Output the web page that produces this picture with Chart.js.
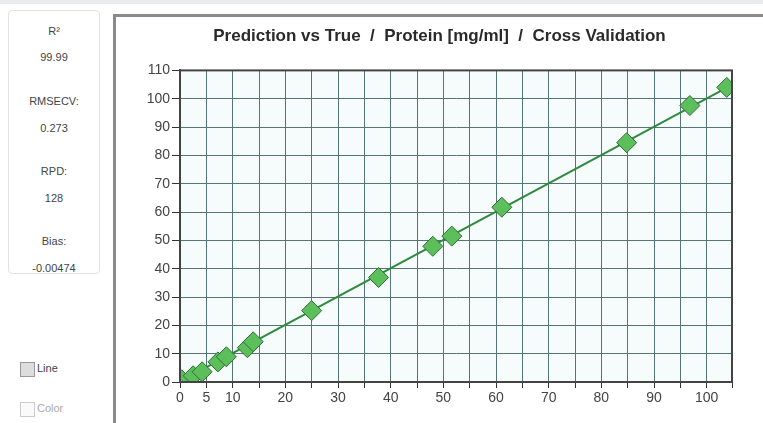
<!DOCTYPE html>
<html>
<head>
<meta charset="utf-8">
<script src="https://cdn.jsdelivr.net/npm/chart.js@4/dist/chart.umd.min.js"></script>
<style>
  body { margin: 0; width: 763px; height: 423px; background: #fff; font-family: "Liberation Sans", Arial, sans-serif; overflow: hidden; position: relative; }
  #topbar { position: absolute; left: 0; top: 0; width: 763px; height: 4px; background: #e9ecef; }
  #stats { position: absolute; left: 8px; top: 10px; width: 90px; height: 262px; border: 1px solid #e2e2e2; border-radius: 4px; color: #444; font-size: 11px; text-align: center; }
  #stats div { position: absolute; left: 0; width: 90px; }
  .chk { position: absolute; left: 20px; font-size: 11px; color: #444; }
  .chk span { display: inline-block; width: 13px; height: 13px; border: 1px solid #999; vertical-align: middle; margin-right: 2px; background: #f4f4f4; }
  #frame { position: absolute; left: 113px; top: 14px; width: 660px; height: 420px; border: 3px solid #8a8a8a; box-sizing: border-box; }
  #wrap { position: absolute; left: 116px; top: 17px; width: 647px; height: 406px; }
</style>
</head>
<body>
<div id="topbar"></div>
<div id="stats"></div>
<div class="chk" style="top:362px"><span style="background:#ddd"></span>Line</div>
<div class="chk" style="top:402px;color:#aaa"><span style="border-color:#ccc;background:#fafafa"></span>Color</div>
<div id="frame"></div>
<div id="wrap"><canvas id="c"></canvas></div>
<script>
// statistics panel
var statLabels = ["R\u00b2", "RMSECV:", "RPD:", "Bias:"];
var statValues = ["99.99", "0.273", "128", "-0.00474"];

// measured samples: true vs predicted protein [mg/ml]
var trueValues = [0.3, 2.5, 4.2, 7.2, 8.8, 12.8, 13.9, 25.0, 37.7, 48.0, 51.6, 61.1, 84.8, 96.8, 103.8];
var predValues = [0.8, 2.2, 3.6, 7.1, 8.9, 12.1, 14.2, 25.2, 36.9, 47.9, 51.5, 61.7, 84.5, 97.6, 104.0];

// regression line
var fitX = [0, 104.8];
var fitY = [0.2, 104.9];

// axis ticks
var xTicks = [0, 5, 10, 15, 20, 25, 30, 35, 40, 45, 50, 55, 60, 65, 70, 75, 80, 85, 90, 95, 100, 104.8];
var xLabels = [0, 5, 10, 20, 30, 40, 50, 60, 70, 80, 90, 100];

var stats = document.getElementById("stats");
var tops = [[14, 40], [84, 111], [154, 181], [224, 251]];
statLabels.forEach(function (l, i) {
  stats.innerHTML += '<div style="top:' + tops[i][0] + 'px">' + l + '</div>' +
                     '<div style="top:' + tops[i][1] + 'px">' + statValues[i] + '</div>';
});

var frameBorder = {
  id: "frameBorder",
  beforeDraw: function (chart) {
    var a = chart.chartArea, ctx = chart.ctx;
    ctx.save();
    ctx.fillStyle = "#f6fcfc";
    ctx.fillRect(a.left, a.top, a.right - a.left, a.bottom - a.top);
    ctx.restore();
  },
  afterDraw: function (chart) {
    var a = chart.chartArea, ctx = chart.ctx;
    ctx.save();
    ctx.strokeStyle = "#444";
    ctx.lineWidth = 2;
    ctx.strokeRect(a.left, a.top, a.right - a.left, a.bottom - a.top);
    ctx.restore();
  }
};

var points = trueValues.map(function (x, i) { return { x: x, y: predValues[i] }; });
var fit = fitX.map(function (x, i) { return { x: x, y: fitY[i] }; });

new Chart(document.getElementById("c"), {
  type: "scatter",
  data: {
    datasets: [{
      label: "samples",
      data: points,
      pointStyle: "rectRot",
      pointRadius: 10,
      backgroundColor: "#5cbf5c",
      borderColor: "#2f6f35",
      borderWidth: 1,
      order: 1
    }, {
      label: "fit",
      type: "line",
      data: fit,
      borderColor: "#2e8a3e",
      borderWidth: 2,
      pointRadius: 0,
      fill: false,
      order: 2
    }]
  },
  options: {
    responsive: true,
    maintainAspectRatio: false,
    animation: false,
    layout: { padding: 0 },
    plugins: {
      legend: { display: false },
      tooltip: { enabled: false },
      title: {
        display: true,
        text: "Prediction vs True  /  Protein [mg/ml]  /  Cross Validation",
        color: "#2a2a2a",
        font: { family: "Liberation Sans", size: 17, weight: "bold" },
        padding: { top: 9, bottom: 24 }
      }
    },
    scales: {
      x: {
        type: "linear",
        min: 0,
        max: 104.8,
        afterBuildTicks: function (s) { s.ticks = xTicks.map(function (v) { return { value: v }; }); },
        afterFit: function (s) { s.height = 41; },
        ticks: {
          autoSkip: false,
          maxRotation: 0,
          color: "#444",
          font: { family: "Liberation Sans", size: 14 },
          padding: 2,
          callback: function (v) { return xLabels.indexOf(v) >= 0 ? v : ""; }
        },
        grid: { color: "#557575", lineWidth: 1, tickLength: 6, tickColor: "#333" },
        border: { color: "#444", width: 2 }
      },
      y: {
        type: "linear",
        min: 0,
        max: 110,
        afterFit: function (s) { s.width = 64; },
        ticks: {
          stepSize: 10,
          color: "#444",
          font: { family: "Liberation Sans", size: 14 },
          padding: 2
        },
        grid: { color: "#557575", lineWidth: 1, tickLength: 8, tickColor: "#333" },
        border: { color: "#444", width: 2 }
      },
      // empty margin on the right of the plot
      yRight: {
        type: "linear",
        position: "right",
        afterFit: function (s) { s.width = 31; },
        ticks: { display: false },
        grid: { display: false },
        border: { display: false }
      }
    }
  },
  plugins: [frameBorder]
});
</script>
</body>
</html>
